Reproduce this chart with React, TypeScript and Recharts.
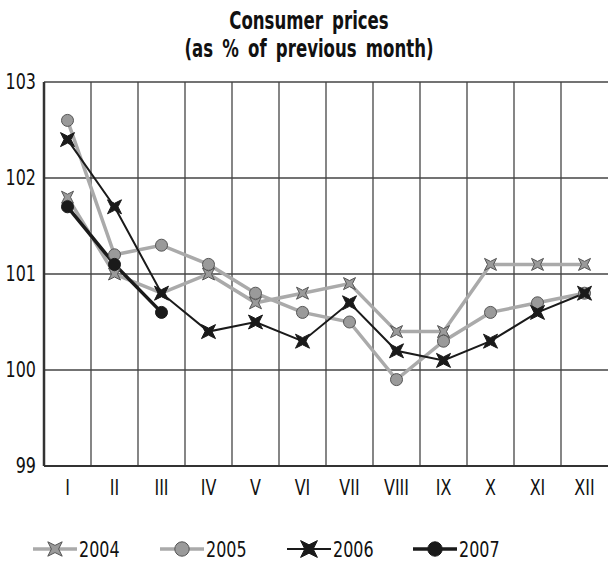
import React from "react";
import { LineChart, Line, XAxis, YAxis, CartesianGrid } from "recharts";

const months = ["I", "II", "III", "IV", "V", "VI", "VII", "VIII", "IX", "X", "XI", "XII"];
const cpi2004 = [101.8, 101.0, 100.8, 101.0, 100.7, 100.8, 100.9, 100.4, 100.4, 101.1, 101.1, 101.1];
const cpi2005 = [102.6, 101.2, 101.3, 101.1, 100.8, 100.6, 100.5, 99.9, 100.3, 100.6, 100.7, 100.8];
const cpi2006 = [102.4, 101.7, 100.8, 100.4, 100.5, 100.3, 100.7, 100.2, 100.1, 100.3, 100.6, 100.8];
const cpi2007 = [101.7, 101.1, 100.6];
const yTicks = [99, 100, 101, 102, 103];

const FONT = "'DejaVu Sans', sans-serif";
const NARROW = 0.76; // squeeze DejaVu to look like the condensed face of the original

const rows = months.map((m, i) => ({
  month: m,
  y2004: cpi2004[i],
  y2005: cpi2005[i],
  y2006: cpi2006[i],
  y2007: cpi2007[i] ?? null,
}));

function starPath(cx: number, cy: number, r: number) {
  const k = r * 0.5;
  return `M${cx - r},${cy - r} L${cx},${cy - k} L${cx + r},${cy - r} L${cx + k},${cy} L${cx + r},${cy + r} L${cx},${cy + k} L${cx - r},${cy + r} L${cx - k},${cy} Z`;
}

const series = [
  { key: "y2004", name: "2004", line: "#aaaaaa", width: 3.5, shape: "star", fill: "#9a9a9a", stroke: "#555", size: 6 },
  { key: "y2005", name: "2005", line: "#aaaaaa", width: 3.5, shape: "circle", fill: "#9a9a9a", stroke: "#555", size: 6 },
  { key: "y2006", name: "2006", line: "#1a1a1a", width: 2, shape: "star", fill: "#1a1a1a", stroke: "#1a1a1a", size: 7 },
  { key: "y2007", name: "2007", line: "#1a1a1a", width: 3.5, shape: "circle", fill: "#1a1a1a", stroke: "#1a1a1a", size: 6 },
];

type S = (typeof series)[number];

function Marker({ s, cx, cy, scale = 1 }: { s: S; cx: number; cy: number; scale?: number }) {
  if (s.shape === "star")
    return <path d={starPath(cx, cy, s.size * scale)} fill={s.fill} stroke={s.stroke} strokeWidth={1} />;
  return <circle cx={cx} cy={cy} r={s.size * scale} fill={s.fill} stroke={s.stroke} strokeWidth={1} />;
}

function NarrowTick(props: any) {
  const { x, y, payload, textAnchor, dy } = props;
  return (
    <g transform={`translate(${x},${y})`}>
      <text transform={`scale(${NARROW},1)`} textAnchor={textAnchor} dy={dy} fontSize={21} fill="#111" fontFamily={FONT}>
        {payload.value}
      </text>
    </g>
  );
}

const legendX = [33, 160, 287, 413];

export default function App() {
  return (
    <div style={{ position: "absolute", left: 0, top: 0, width: 608, height: 562, background: "#fff", fontFamily: FONT }}>
      <div
        style={{
          position: "absolute",
          top: 7,
          left: 0,
          width: 618,
          textAlign: "center",
          fontWeight: "bold",
          fontSize: 24,
          lineHeight: "28px",
          wordSpacing: 5,
          color: "#111",
          transform: "scaleX(0.69)",
          transformOrigin: "309px 0",
        }}
      >
        Consumer prices
        <br />
        (as % of previous month)
      </div>
      <LineChart width={608} height={562} data={rows} margin={{ top: 82, right: 0, bottom: 66, left: 0 }}>
        <CartesianGrid
          stroke="#444"
          strokeWidth={1.3}
          verticalCoordinatesGenerator={({ offset }: any) =>
            months.slice(1).map((_, i) => offset.left + (offset.width / months.length) * (i + 1))
          }
        />
        <XAxis
          dataKey="month"
          scale="band"
          height={30}
          tickLine={false}
          axisLine={{ stroke: "#333", strokeWidth: 2 }}
          tickMargin={8}
          tick={<NarrowTick dy="0.71em" />}
        />
        <YAxis
          domain={[99, 103]}
          ticks={yTicks}
          width={44}
          tickLine={false}
          axisLine={{ stroke: "#333", strokeWidth: 2.5 }}
          tick={<NarrowTick dy="0.355em" />}
        />
        {series.map((s) => (
          <Line
            key={s.key}
            dataKey={s.key}
            stroke={s.line}
            strokeWidth={s.width}
            isAnimationActive={false}
            connectNulls={false}
            dot={(p: any) =>
              p.value == null ? <g key={p.index} /> : <Marker key={p.index} s={s} cx={p.cx} cy={p.cy} />
            }
            activeDot={false}
          />
        ))}
      </LineChart>
      <svg style={{ position: "absolute", left: 0, top: 530 }} width={608} height={32}>
        {series.map((s, i) => {
          const x = legendX[i];
          return (
            <g key={s.key}>
              <line x1={x} x2={x + 44} y1={19} y2={19} stroke={s.line} strokeWidth={s.width} />
              <Marker s={s} cx={x + 22} cy={19} scale={1.2} />
              <g transform={`translate(${x + 46},27)`}>
                <text transform={`scale(${NARROW},1)`} fontSize={21} fill="#111" fontFamily={FONT}>
                  {s.name}
                </text>
              </g>
            </g>
          );
        })}
      </svg>
    </div>
  );
}
